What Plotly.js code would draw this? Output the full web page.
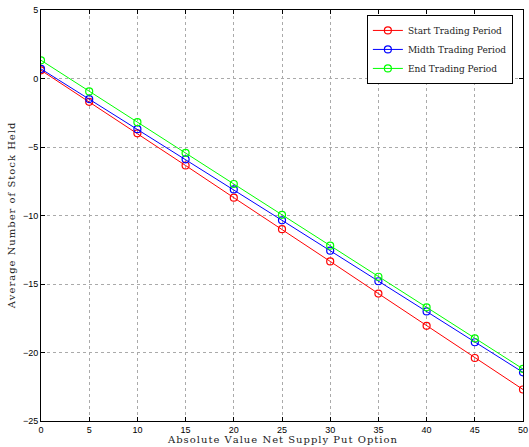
<!DOCTYPE html>
<html>
<head>
<meta charset="utf-8">
<script src="https://cdn.plot.ly/plotly-3.0.1.min.js"></script>
<style>html,body{margin:0;padding:0;background:#fff;}#chart{width:529px;height:447px;}</style>
</head>
<body>
<div id="chart"></div>
<script>
const xValues = [0, 5, 10, 15, 20, 25, 30, 35, 40, 45, 50];
const startPeriod = [0.6, -1.7, -4.0, -6.35, -8.7, -11.0, -13.35, -15.7, -18.05, -20.4, -22.7];
const midthPeriod = [0.7, -1.5, -3.7, -5.9, -8.1, -10.35, -12.57, -14.8, -17.0, -19.25, -21.45];
const endPeriod = [1.33, -0.94, -3.19, -5.43, -7.7, -9.95, -12.2, -14.47, -16.7, -18.97, -21.2];
const seriesNames = ["Start Trading Period", "Midth Trading Period", "End Trading Period"];
const seriesColors = ["#ff0000", "#0000ff", "#00ff00"];
const xTitle = "Absolute Value Net Supply Put Option";
const yTitle = "Average Number of Stock Held";

const serif = "DejaVu Serif, Liberation Serif, serif";
const sans = "Liberation Sans, Arial, sans-serif";
function spaced(s) { return s.split("").join("\u200a"); }

const ys = [startPeriod, midthPeriod, endPeriod];
const traces = ys.map((y, i) => ({
  x: xValues, y: y, name: seriesNames[i], type: "scatter", mode: "lines+markers",
  line: {color: seriesColors[i], width: 1},
  marker: {symbol: "circle-open", size: 7, color: seriesColors[i], line: {width: 1.2, color: seriesColors[i]}}
}));

const layout = {
  width: 529, height: 447,
  margin: {l: 41, r: 6, t: 10, b: 26},
  paper_bgcolor: "#fff", plot_bgcolor: "#fff",
  showlegend: true,
  legend: {
    x: 0.979, y: 0.988, xanchor: "right", yanchor: "top",
    bordercolor: "#000", borderwidth: 1, bgcolor: "#fff",
    font: {family: serif, size: 9, color: "#222"},
    tracegroupgap: 0, itemwidth: 30
  },
  xaxis: {
    range: [0, 50], tickvals: [0,5,10,15,20,25,30,35,40,45,50],
    ticks: "inside", ticklen: 4, tickcolor: "#000", mirror: "ticks",
    showline: true, linecolor: "#000", linewidth: 1,
    showgrid: true, gridcolor: "#aaa", griddash: "dot", gridwidth: 1,
    zeroline: false,
    tickfont: {family: sans, size: 9, color: "#000"},
    title: {text: "", font: {family: serif, size: 10, color: "#222"}}
  },
  yaxis: {
    range: [-25, 5], tickvals: [-25,-20,-15,-10,-5,0,5],
    ticks: "inside", ticklen: 4, tickcolor: "#000", mirror: "ticks",
    showline: true, linecolor: "#000", linewidth: 1,
    showgrid: true, gridcolor: "#aaa", griddash: "dot", gridwidth: 1,
    zeroline: false,
    tickfont: {family: sans, size: 9, color: "#000"},
    title: {text: spaced(yTitle), font: {family: serif, size: 10, color: "#222"}, standoff: 5}
  },
  annotations: [{
    text: spaced(xTitle), xref: "paper", yref: "paper", x: 0.5, y: 0, yshift: -11,
    xanchor: "center", yanchor: "top", showarrow: false,
    font: {family: serif, size: 10, color: "#222"}
  }]
};

Plotly.newPlot("chart", traces, layout, {displayModeBar: false, staticPlot: true});
</script>
</body>
</html>
